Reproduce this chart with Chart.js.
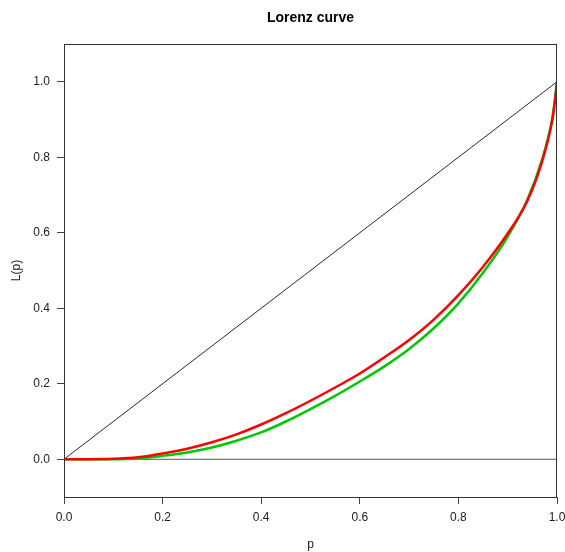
<!DOCTYPE html>
<html>
<head>
<meta charset="utf-8">
<script src="https://cdn.jsdelivr.net/npm/chart.js@4.4.1/dist/chart.umd.min.js"></script>
<style>
  html, body { margin: 0; padding: 0; background: #fff; }
  #wrap { width: 565px; height: 552px; }
</style>
</head>
<body>
<div id="wrap"><canvas id="lorenz"></canvas></div>
<script>
// valeurs
const pValues = [0, 0.05, 0.1, 0.15, 0.2, 0.25, 0.3, 0.35, 0.4, 0.45, 0.5, 0.55, 0.6, 0.65, 0.7, 0.75, 0.8, 0.85, 0.9, 0.94, 0.97, 0.99, 0.995, 1];
const redL   = [0, 0, 0.001, 0.005, 0.015, 0.028, 0.045, 0.066, 0.092, 0.122, 0.155, 0.19, 0.227, 0.27, 0.316, 0.37, 0.435, 0.51, 0.598, 0.685, 0.79, 0.895, 0.94, 1];
const greenL = [0, 0, 0, 0.002, 0.009, 0.018, 0.031, 0.049, 0.071, 0.1, 0.133, 0.168, 0.206, 0.246, 0.292, 0.347, 0.413, 0.494, 0.59, 0.688, 0.795, 0.9, 0.945, 1];
const equality = [[0, 0], [1, 1]];
const zeroLine = [[0, 0], [1, 0]];
const xTicks = [0, 0.2, 0.4, 0.6, 0.8, 1.0];
const yTicks = [0, 0.2, 0.4, 0.6, 0.8, 1.0];

const toPts = (xs, ys) => xs.map((x, i) => ({ x: x, y: ys[i] }));
const pairPts = arr => arr.map(a => ({ x: a[0], y: a[1] }));

// cadre + titre style R
const boxPlugin = {
    id: 'box',
    afterDraw(chart) {
        const { ctx, chartArea: a } = chart;
        ctx.save();
        ctx.strokeStyle = '#333';
        ctx.lineWidth = 1;
        ctx.strokeRect(a.left + 0.5, a.top + 0.5, a.right - a.left - 1, a.bottom - a.top);
        ctx.fillStyle = '#000';
        ctx.font = 'bold 14px "Liberation Sans", Arial, sans-serif';
        ctx.textAlign = 'center';
        ctx.textBaseline = 'middle';
        ctx.fillText('Lorenz curve', (a.left + a.right) / 2, 18.5);
        ctx.restore();
    }
};

const tickFont = { family: '"Liberation Sans", Arial, sans-serif', size: 12 };

new Chart(document.getElementById('lorenz'), {
    type: 'line',
    data: {
        datasets: [
            { data: toPts(pValues, redL), borderColor: '#ff0000', borderWidth: 2.5, cubicInterpolationMode: 'monotone' },
            { data: toPts(pValues, greenL), borderColor: '#00c800', borderWidth: 2.5, cubicInterpolationMode: 'monotone' },
            { data: pairPts(equality), borderColor: '#111', borderWidth: 0.9 },
            { data: pairPts(zeroLine), borderColor: '#555', borderWidth: 1.2 }
        ]
    },
    options: {
        responsive: true,
        maintainAspectRatio: false,
        animation: false,
        events: [],
        elements: { point: { radius: 0 } },
        layout: { padding: { top: 44, right: 8, bottom: 0, left: 0 } },
        plugins: { legend: { display: false }, tooltip: { enabled: false } },
        scales: {
            x: {
                type: 'linear', min: 0, max: 1,
                afterBuildTicks: s => { s.ticks = xTicks.map(v => ({ value: v })); },
                afterFit: s => { s.height = 55; s.paddingLeft = 0; s.paddingRight = 0; },
                ticks: { font: tickFont, color: '#222', padding: 6, maxRotation: 0, callback: v => v.toFixed(1) },
                grid: { drawOnChartArea: false, tickLength: 7, color: '#444' },
                border: { display: false },
                title: { display: true, text: 'p', font: tickFont, color: '#222', padding: { top: 0, bottom: 0 } }
            },
            y: {
                type: 'linear', min: -0.1, max: 1.1,
                afterBuildTicks: s => { s.ticks = yTicks.map(v => ({ value: v })); },
                afterFit: s => { s.width = 64; },
                ticks: { font: tickFont, color: '#222', padding: 7, callback: v => v.toFixed(1) },
                grid: { drawOnChartArea: false, tickLength: 7, color: '#444' },
                border: { display: false },
                title: { display: true, text: 'L(p)', font: tickFont, color: '#222', padding: { top: 9, bottom: 0 } }
            }
        }
    },
    plugins: [boxPlugin]
});
</script>
</body>
</html>
